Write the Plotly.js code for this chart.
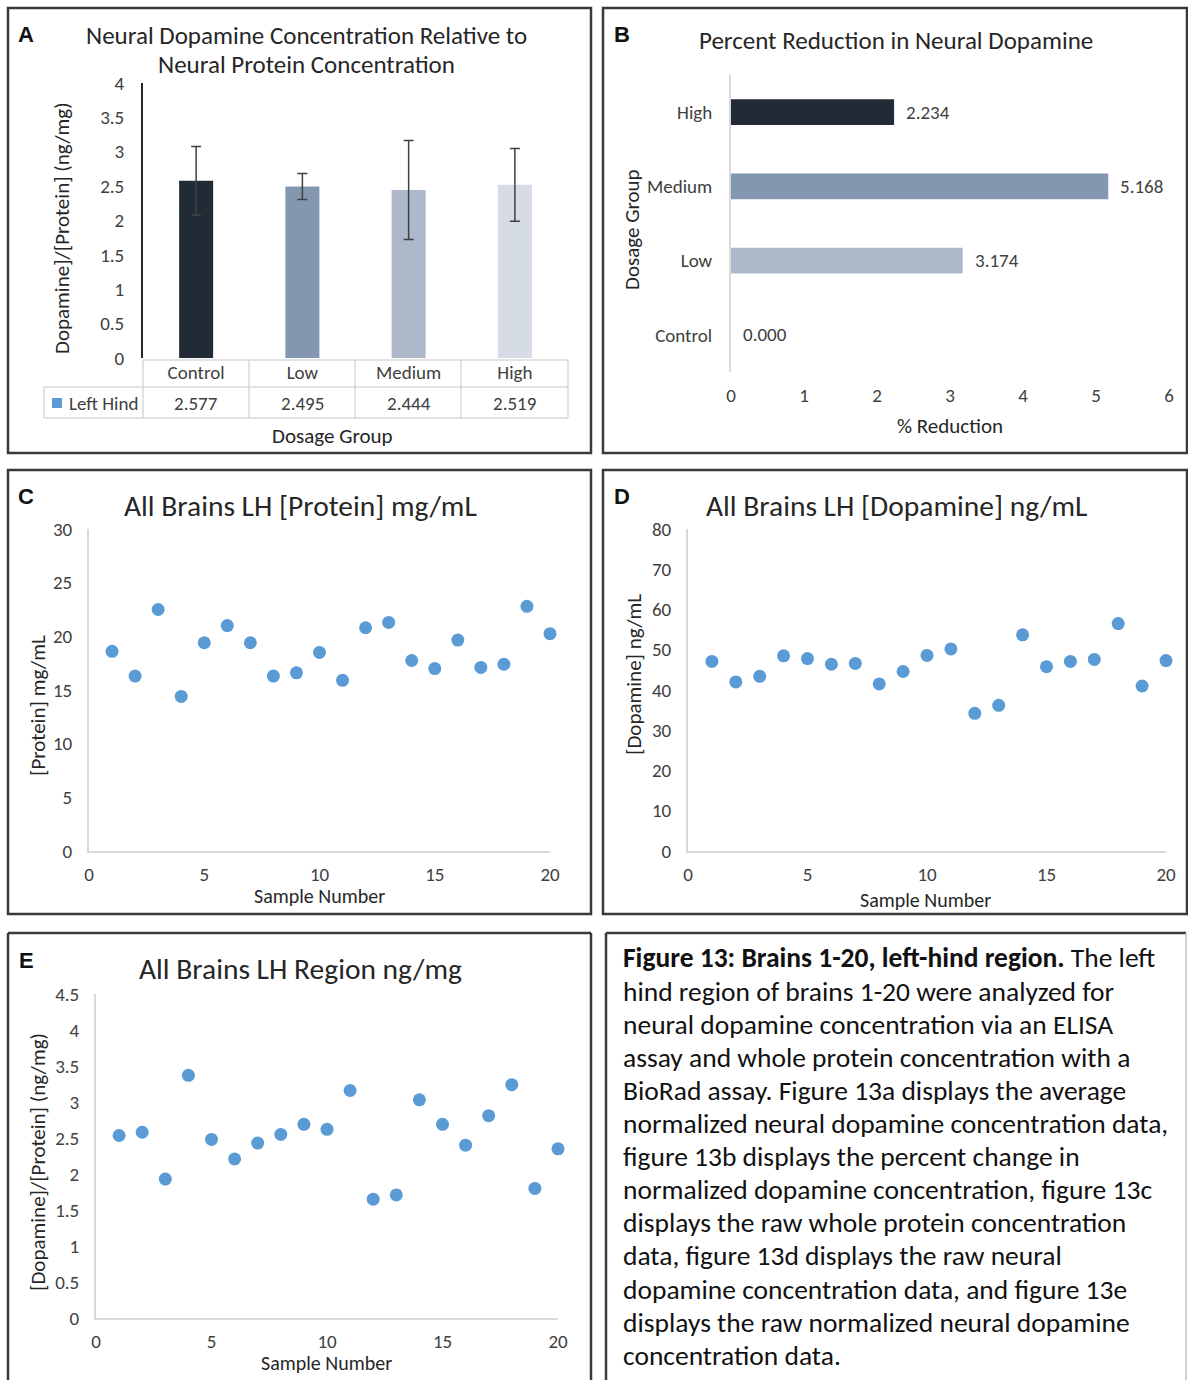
<!DOCTYPE html>
<html>
<head>
<meta charset="utf-8">
<script src="https://cdn.plot.ly/plotly-3.0.1.min.js"></script>
<style>
  html, body { margin: 0; padding: 0; background: #ffffff; }
  #chart { width: 1188px; height: 1380px; }
</style>
</head>
<body>
<div id="chart"></div>
<script>
// ---------------- DATA ----------------
const dosageGroups = ['Control', 'Low', 'Medium', 'High'];
const meanRatioLH = [2.577, 2.495, 2.444, 2.519];
const ratioErrLH = [0.50, 0.19, 0.72, 0.53];
const seriesNameA = 'Left Hind';

const reductionGroups = ['Control', 'Low', 'Medium', 'High'];
const pctReduction = [0.000, 3.174, 5.168, 2.234];

const sampleNumbers = [1, 2, 3, 4, 5, 6, 7, 8, 9, 10, 11, 12, 13, 14, 15, 16, 17, 18, 19, 20];
const proteinMgMl = [18.6, 16.3, 22.5, 14.4, 19.4, 21.0, 19.4, 16.3, 16.6, 18.5,
                     15.9, 20.8, 21.3, 17.75, 17.0, 19.65, 17.1, 17.4, 22.8, 20.25];
const dopamineNgMl = [47.1, 42.0, 43.4, 48.5, 47.8, 46.4, 46.6, 41.5, 44.6, 48.6,
                      50.2, 34.2, 36.2, 53.7, 45.8, 47.1, 47.6, 56.5, 41.0, 47.3];
const ratioNgMg = [2.535, 2.58, 1.93, 3.37, 2.48, 2.21, 2.43, 2.55, 2.69, 2.62,
                   3.16, 1.65, 1.71, 3.03, 2.69, 2.40, 2.81, 3.24, 1.80, 2.35];

const captionLines = [
  '<b>Figure 13: Brains 1-20, left-hind region.</b> The left',
  'hind region of brains 1-20 were analyzed for',
  'neural dopamine concentration via an ELISA',
  'assay and whole protein concentration with a',
  'BioRad assay. Figure 13a displays the average',
  'normalized neural dopamine concentration data,',
  'figure 13b displays the percent change in',
  'normalized dopamine concentration, figure 13c',
  'displays the raw whole protein concentration',
  'data, figure 13d displays the raw neural',
  'dopamine concentration data, and figure 13e',
  'displays the raw normalized neural dopamine',
  'concentration data.'
];

// ---------------- STYLE ----------------
const W = 1188, H = 1380;
const FONT = 'Carlito, Lato, "Open Sans", sans-serif';
const TXT = '#262626';
const TICK = '#404040';
const AXIS_GRAY = '#d9d9d9';
const DOT = '#5b9bd5';
const barColorsA = ['#222a35', '#8497b0', '#adb9ca', '#d6dce5'];
const barColorsB = ['#ffffff', '#adb9ca', '#8497b0', '#222a35'];
const TICK_SIZE = 19;

const px = x => x / W;
const py = y => 1 - y / H;
const dom = (a, b) => [px(a), px(b)];
const domY = (top, bottom) => [py(bottom), py(top)];

// ---------------- TRACES ----------------
const traces = [
  {
    type: 'bar', x: dosageGroups, y: meanRatioLH, xaxis: 'x', yaxis: 'y',
    marker: { color: barColorsA }, width: 0.32, name: seriesNameA,
    error_y: { type: 'data', array: ratioErrLH, visible: true, color: '#404040', thickness: 1.5, width: 5 },
    hoverinfo: 'skip', showlegend: false
  },
  {
    type: 'bar', orientation: 'h', y: reductionGroups, x: pctReduction, xaxis: 'x2', yaxis: 'y2',
    marker: { color: barColorsB }, width: 0.35, hoverinfo: 'skip', showlegend: false
  },
  {
    type: 'scatter', mode: 'markers', x: sampleNumbers, y: proteinMgMl, xaxis: 'x3', yaxis: 'y3',
    marker: { color: DOT, size: 13 }, showlegend: false, cliponaxis: false
  },
  {
    type: 'scatter', mode: 'markers', x: sampleNumbers, y: dopamineNgMl, xaxis: 'x4', yaxis: 'y4',
    marker: { color: DOT, size: 13 }, showlegend: false, cliponaxis: false
  },
  {
    type: 'scatter', mode: 'markers', x: sampleNumbers, y: ratioNgMg, xaxis: 'x5', yaxis: 'y5',
    marker: { color: DOT, size: 13 }, showlegend: false, cliponaxis: false
  }
];

// ---------------- AXES ----------------
const tickFont = { family: FONT, size: TICK_SIZE, color: TICK };
function scatterX(domain, anchor) {
  return {
    domain: domain, anchor: anchor, range: [0, 20], dtick: 5, tick0: 0,
    showgrid: false, zeroline: false, showline: true, linecolor: AXIS_GRAY, linewidth: 2,
    ticks: '', tickfont: tickFont, ticklabelstandoff: 5, fixedrange: true
  };
}
function scatterY(domain, anchor, max, dtick) {
  return {
    domain: domain, anchor: anchor, range: [0, max], dtick: dtick, tick0: 0,
    showgrid: false, zeroline: false, showline: true, linecolor: AXIS_GRAY, linewidth: 2,
    ticks: '', tickfont: tickFont, ticklabelstandoff: 11, fixedrange: true
  };
}

const layout = {
  width: W, height: H,
  margin: { l: 0, r: 0, t: 0, b: 0 },
  paper_bgcolor: '#ffffff', plot_bgcolor: 'rgba(0,0,0,0)',
  font: { family: FONT, color: TXT },
  showlegend: false,
  // Panel A
  xaxis: {
    domain: dom(143, 568), anchor: 'y', type: 'category',
    showgrid: false, zeroline: false, showline: false, ticks: '',
    tickfont: tickFont, ticklabelstandoff: 1, fixedrange: true
  },
  yaxis: {
    domain: domY(83, 358), anchor: 'x', range: [0, 4], dtick: 0.5, tick0: 0,
    showgrid: false, zeroline: false, showline: true, linecolor: '#262626', linewidth: 2,
    ticks: '', tickfont: tickFont, ticklabelstandoff: 13, fixedrange: true
  },
  // Panel B
  xaxis2: {
    domain: dom(731, 1169), anchor: 'y2', range: [0, 6], dtick: 1, tick0: 0,
    showgrid: false, zeroline: false, showline: false, ticks: '',
    tickfont: tickFont, ticklabelstandoff: 10, fixedrange: true
  },
  yaxis2: {
    domain: domY(75, 372), anchor: 'x2', type: 'category',
    showgrid: false, zeroline: false, showline: true, linecolor: AXIS_GRAY, linewidth: 2,
    ticks: '', tickfont: tickFont, ticklabelstandoff: 13, fixedrange: true
  },
  xaxis3: scatterX(dom(89, 550), 'y3'),
  yaxis3: scatterY(domY(529, 851), 'x3', 30, 5),
  xaxis4: scatterX(dom(688, 1166), 'y4'),
  yaxis4: scatterY(domY(529, 851), 'x4', 80, 10),
  xaxis5: scatterX(dom(96, 558), 'y5'),
  yaxis5: scatterY(domY(994, 1318), 'x5', 4.5, 0.5),
  shapes: [],
  annotations: []
};

// ---------------- SHAPES ----------------
const boxLine = { color: '#3a3a3a', width: 2.5 };
function rectPx(x0, y0, x1, y1, line) {
  layout.shapes.push({ type: 'rect', xref: 'paper', yref: 'paper',
    x0: px(x0), x1: px(x1), y0: py(y1), y1: py(y0), line: line, fillcolor: 'rgba(0,0,0,0)' });
}
function linePx(x0, y0, x1, y1, line) {
  layout.shapes.push({ type: 'line', xref: 'paper', yref: 'paper',
    x0: px(x0), x1: px(x1), y0: py(y0), y1: py(y1), line: line });
}
// panel frames
rectPx(8, 8, 591, 453, boxLine);
rectPx(603, 8, 1187, 453, boxLine);
rectPx(8, 470, 591, 914, boxLine);
rectPx(603, 470, 1187, 914, boxLine);
linePx(8, 933, 8, 1380, boxLine);
linePx(8, 933, 591, 933, boxLine);
linePx(591, 933, 591, 1380, boxLine);
linePx(606, 933, 1186, 933, boxLine);
linePx(606, 933, 606, 1380, boxLine);
linePx(1186, 933, 1186, 1380, { color: '#bfbfbf', width: 1.5 });

// panel A data table grid
const grid = { color: AXIS_GRAY, width: 1.5 };
linePx(143, 360, 568, 360, grid);
linePx(44, 387, 568, 387, grid);
linePx(44, 418, 568, 418, grid);
linePx(44, 387, 44, 418, grid);
[143, 249, 355, 461, 568].forEach(x => linePx(x, 360, x, 418, grid));
// legend key
layout.shapes.push({ type: 'rect', xref: 'paper', yref: 'paper',
  x0: px(52), x1: px(62), y0: py(408), y1: py(398), line: { width: 0 }, fillcolor: DOT });

// ---------------- ANNOTATIONS ----------------
function textPx(x, y, text, size, opts) {
  layout.annotations.push(Object.assign({
    xref: 'paper', yref: 'paper', x: px(x), y: py(y), text: text, showarrow: false,
    xanchor: 'center', yanchor: 'middle', font: { family: FONT, size: size, color: TXT }
  }, opts || {}));
}
// panel letters
[['A', 26, 34], ['B', 622, 34], ['C', 26, 497], ['D', 622, 497], ['E', 26, 960]].forEach(l =>
  textPx(l[1], l[2], '<b>' + l[0] + '</b>', 22, { font: { family: 'Liberation Sans, Arial, sans-serif', size: 22, color: '#111' } }));

// titles
textPx(306, 35, 'Neural Dopamine Concentration Relative to', 25);
textPx(306, 65, 'Neural Protein Concentration', 25);
textPx(896, 40, 'Percent Reduction in Neural Dopamine', 25);
textPx(300, 506, 'All Brains LH [Protein] mg/mL', 29.5);
textPx(896, 506, 'All Brains LH [Dopamine] ng/mL', 29.5);
textPx(300, 969, 'All Brains LH Region ng/mg', 29.5);

// axis titles
const axT = 21;
textPx(332, 436, 'Dosage Group', axT);
textPx(62, 228, 'Dopamine]/[Protein] (ng/mg)', axT, { textangle: -90 });
textPx(950, 426, '% Reduction', axT);
textPx(632, 230, 'Dosage Group', axT, { textangle: -90 });
textPx(319, 896, 'Sample Number', 20);
textPx(38, 706, '[Protein] mg/mL', axT, { textangle: -90 });
textPx(926, 900, 'Sample Number', 20);
textPx(634, 675, '[Dopamine] ng/mL', axT, { textangle: -90 });
textPx(326, 1363, 'Sample Number', 20);
textPx(38, 1162, '[Dopamine]/[Protein] (ng/mg)', axT, { textangle: -90 });

// panel A table: series label + values
textPx(67, 403, seriesNameA, TICK_SIZE, { xanchor: 'left', font: { family: FONT, size: TICK_SIZE, color: TICK } });
dosageGroups.forEach((g, i) => {
  layout.annotations.push({
    xref: 'x', yref: 'paper', x: g, y: py(403), text: meanRatioLH[i].toFixed(3), showarrow: false,
    xanchor: 'center', yanchor: 'middle', font: { family: FONT, size: TICK_SIZE, color: TICK }
  });
});

// panel B value labels
reductionGroups.forEach((g, i) => {
  layout.annotations.push({
    xref: 'x2', yref: 'y2', x: pctReduction[i], y: g, text: pctReduction[i].toFixed(3), showarrow: false,
    xanchor: 'left', yanchor: 'middle', xshift: 10, font: { family: FONT, size: TICK_SIZE, color: TICK }
  });
});

// caption
captionLines.forEach((t, i) => {
  textPx(621, 958 + i * 33.1, t, 27.5, { xanchor: 'left', align: 'left', font: { family: FONT, size: 27.5, color: '#111' } });
});

Plotly.newPlot('chart', traces, layout, { staticPlot: true, displayModeBar: false });
</script>
</body>
</html>
